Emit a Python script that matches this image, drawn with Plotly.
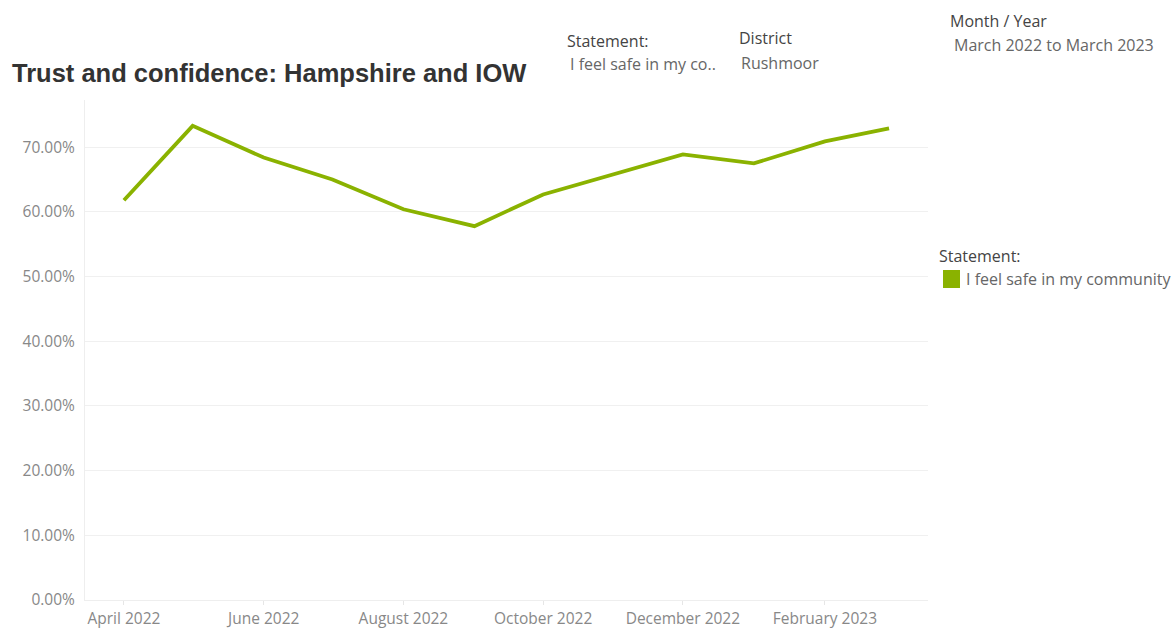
import plotly.graph_objects as go

months = ["2022-04-01", "2022-05-01", "2022-06-01", "2022-07-01", "2022-08-01", "2022-09-01",
          "2022-10-01", "2022-11-01", "2022-12-01", "2023-01-01", "2023-02-01", "2023-03-01"]
safe_pct = [61.8, 73.3, 68.4, 65.0, 60.4, 57.8, 62.7, 65.8, 68.9, 67.5, 70.9, 72.9]
y_ticks = [0, 10, 20, 30, 40, 50, 60, 70]
series_name = "I feel safe in my community"
GREEN = "#8AB200"
FONT = "Open Sans"

W, H = 1173, 630
L, R, T, B = 85, 245, 100, 30
PW, PH = W - L - R, H - T - B

fig = go.Figure()
fig.add_trace(go.Scatter(x=months, y=safe_pct, mode="lines", line=dict(color=GREEN, width=3.8),
                         showlegend=False, name=series_name))

fig.update_layout(
    width=W, height=H,
    margin=dict(l=L, r=R, t=T, b=B, autoexpand=False),
    paper_bgcolor="white", plot_bgcolor="white",
    font=dict(family=FONT, size=15, color="#888"),
    showlegend=False,
    title=dict(text="<b>Trust and confidence: Hampshire and IOW</b>",
               font=dict(family="Liberation Sans", size=25.5, color="#333"),
               xref="container", yref="container",
               x=12 / W, xanchor="left", y=1 - 73 / H, yanchor="middle"),
    xaxis=dict(type="date", range=["2022-03-15", "2023-03-18"], dtick="M2",
               tick0="2022-04-01", tickformat="%B %Y", showgrid=False, automargin=False,
               ticks="outside", ticklen=4, tickcolor="#e6e6e6", showline=True,
               linecolor="#eeeeee", zeroline=False, tickfont=dict(color="#888", size=15.5)),
    yaxis=dict(range=[0, 77.3], tickvals=y_ticks, ticktext=[f"{v:.2f}%" for v in y_ticks],
               showgrid=True, gridcolor="#f0f0f0", showline=True, linecolor="#eeeeee",
               zeroline=False, ticks="", ticklabelstandoff=6, automargin=False,
               tickfont=dict(color="#888", size=15.5)),
)


def px_to_paper(px, py):
    return (px - L) / PW, (H - B - py) / PH


ann = [
    (567, 41, "Statement:", "#444"),
    (570, 64, "I feel safe in my co..", "#666"),
    (739, 38, "District", "#444"),
    (741, 63, "Rushmoor", "#666"),
    (950, 21, "Month / Year", "#444"),
    (954, 45, "March 2022 to March 2023", "#666"),
    (939, 256, "Statement:", "#444"),
    (966, 279, series_name, "#666"),
]
for px, py, txt, col in ann:
    ax, ay = px_to_paper(px, py)
    fig.add_annotation(x=ax, y=ay, xref="paper", yref="paper", xanchor="left",
                       yanchor="middle", showarrow=False, xshift=-2,
                       text=txt, font=dict(family=FONT, size=16, color=col))

# legend swatch
x0, y0 = px_to_paper(943, 288)
x1, y1 = px_to_paper(960, 270)
fig.add_shape(type="rect", xref="paper", yref="paper", x0=x0, y0=y0, x1=x1, y1=y1,
              fillcolor=GREEN, line=dict(width=0))

fig.write_html("out.html", config={"displayModeBar": False},
               post_script="document.body.style.margin='0';document.body.style.overflow='hidden';")
